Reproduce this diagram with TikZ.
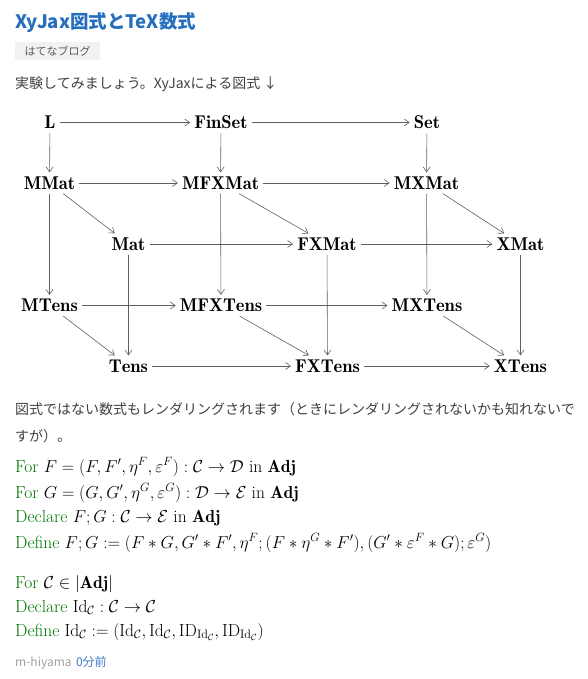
\documentclass[tikz,border=0pt]{standalone}
\usepackage{amsmath}
\usepackage{amssymb}
\usepackage{xcolor}
\usepackage{fontspec}
\usepackage{tikz}
\usetikzlibrary{arrows.meta,positioning}
\newfontfamily\jpfont{Noto Sans CJK JP}
\definecolor{titleblue}{RGB}{38,110,190}
\definecolor{bodygray}{RGB}{64,64,64}
\definecolor{taggray}{RGB}{242,242,242}
\definecolor{tagtext}{RGB}{90,90,90}
\definecolor{kwgreen}{RGB}{0,118,0}
\definecolor{arrowgray}{RGB}{95,95,95}
\definecolor{footgray}{RGB}{160,160,160}
\definecolor{linkblue}{RGB}{60,120,200}
\newcommand{\kw}[1]{\textcolor{kwgreen}{#1}}

\begin{document}
\begin{tikzpicture}[x=1pt, y=-1pt,
    obj/.style={inner sep=4pt, font=\fontsize{18.5}{22}\selectfont},
    arrow/.style={-{Straight Barb[length=5pt,width=7pt]}, draw=arrowgray, line width=0.6pt},
    mathline/.style={anchor=base west, inner sep=0pt, font=\fontsize{17.5}{21}\selectfont},
    jp/.style={anchor=base west, inner sep=0pt, text=bodygray, font=\jpfont\fontsize{14}{17}\selectfont}
]
    \useasboundingbox (0,0) rectangle (588,679);

    % header
    \node[jp, text=titleblue, font=\jpfont\bfseries\fontsize{18.5}{22}\selectfont] (title) at (15,29) {XyJax図式とTeX数式};
    \node[anchor=north west, fill=taggray, text=tagtext, minimum width=85pt, minimum height=18pt, inner sep=0pt,
        font=\jpfont\fontsize{11}{13}\selectfont] (tag) at (15,42) {はてなブログ};
    \node[jp] (intro) at (15,89) {実験してみましょう。XyJaxによる図式 ↓};

    % diagram
    \node[obj] (L) at (50,122.5) {$\mathbf{L}$};
    \node[obj] (finset) at (221,122.5) {$\mathbf{FinSet}$};
    \node[obj] (set) at (427,122.5) {$\mathbf{Set}$};
    \node[obj] (mmat) at (49.5,183) {$\mathbf{MMat}$};
    \node[obj] (mfxmat) at (220.5,183) {$\mathbf{MFXMat}$};
    \node[obj] (mxmat) at (426.5,183) {$\mathbf{MXMat}$};
    \node[obj] (mat) at (128.5,244) {$\mathbf{Mat}$};
    \node[obj] (fxmat) at (327,244) {$\mathbf{FXMat}$};
    \node[obj] (xmat) at (520.5,244) {$\mathbf{XMat}$};
    \node[obj] (mtens) at (49.5,305.5) {$\mathbf{MTens}$};
    \node[obj] (mfxtens) at (221,305.5) {$\mathbf{MFXTens}$};
    \node[obj] (mxtens) at (427,305.5) {$\mathbf{MXTens}$};
    \node[obj] (tens) at (128.5,366) {$\mathbf{Tens}$};
    \node[obj] (fxtens) at (327.5,366) {$\mathbf{FXTens}$};
    \node[obj] (xtens) at (520.5,366) {$\mathbf{XTens}$};

    \draw[arrow] (L) -- (finset);
    \draw[arrow] (finset) -- (set);
    \draw[arrow] (L) -- (mmat);
    \draw[arrow] (finset) -- (mfxmat);
    \draw[arrow] (set) -- (mxmat);
    \draw[arrow] (mmat) -- (mfxmat);
    \draw[arrow] (mfxmat) -- (mxmat);
    \draw[arrow] (mmat) -- (mat);
    \draw[arrow] (mfxmat) -- (fxmat);
    \draw[arrow] (mxmat) -- (xmat);
    \draw[arrow] (mat) -- (fxmat);
    \draw[arrow] (fxmat) -- (xmat);
    \draw[arrow] (mmat) -- (mtens);
    \draw[arrow] (mfxmat) -- (mfxtens);
    \draw[arrow] (mxmat) -- (mxtens);
    \draw[arrow] (mat) -- (tens);
    \draw[arrow] (fxmat) -- (fxtens);
    \draw[arrow] (xmat) -- (xtens);
    \draw[arrow] (mtens) -- (mfxtens);
    \draw[arrow] (mfxtens) -- (mxtens);
    \draw[arrow] (mtens) -- (tens);
    \draw[arrow] (mfxtens) -- (fxtens);
    \draw[arrow] (mxtens) -- (xtens);
    \draw[arrow] (tens) -- (fxtens);
    \draw[arrow] (fxtens) -- (xtens);

    % text below
    \node[jp] (para1) at (15,414) {図式ではない数式もレンダリングされます（ときにレンダリングされないかも知れないで};
    \node[jp] (para2) at (15,441) {すが）。};

    \node[mathline] (for1) at (15,472) {\kw{For} $F = (F, F', \eta^F, \varepsilon^F) : \mathcal{C} \to \mathcal{D}$ in $\mathbf{Adj}$};
    \node[mathline] (for2) at (15,498) {\kw{For} $G = (G, G', \eta^G, \varepsilon^G) : \mathcal{D} \to \mathcal{E}$ in $\mathbf{Adj}$};
    \node[mathline] (decl1) at (15,522) {\kw{Declare} $F;G : \mathcal{C} \to \mathcal{E}$ in $\mathbf{Adj}$};
    \node[mathline] (def1) at (15,548) {\kw{Define} $F;G := (F * G, G' * F', \eta^F; (F * \eta^G * F'), (G' * \varepsilon^F * G); \varepsilon^G)$};

    \node[mathline] (for3) at (15,588) {\kw{For} $\mathcal{C} \in |\mathbf{Adj}|$};
    \node[mathline] (decl2) at (15,612) {\kw{Declare} $\mathrm{Id}_{\mathcal{C}} : \mathcal{C} \to \mathcal{C}$};
    \node[mathline] (def2) at (15,636) {\kw{Define} $\mathrm{Id}_{\mathcal{C}} := (\mathrm{Id}_{\mathcal{C}}, \mathrm{Id}_{\mathcal{C}}, \mathrm{ID}_{\mathrm{Id}_{\mathcal{C}}}, \mathrm{ID}_{\mathrm{Id}_{\mathcal{C}}})$};

    % footer
    \node[anchor=base west, inner sep=0pt, text=footgray, font=\jpfont\fontsize{12}{14}\selectfont] (author) at (15,666) {m-hiyama};
    \node[base right=4pt of author, inner sep=0pt, text=linkblue, font=\jpfont\fontsize{12}{14}\selectfont] (time) {0分前};
\end{tikzpicture}
\end{document}
